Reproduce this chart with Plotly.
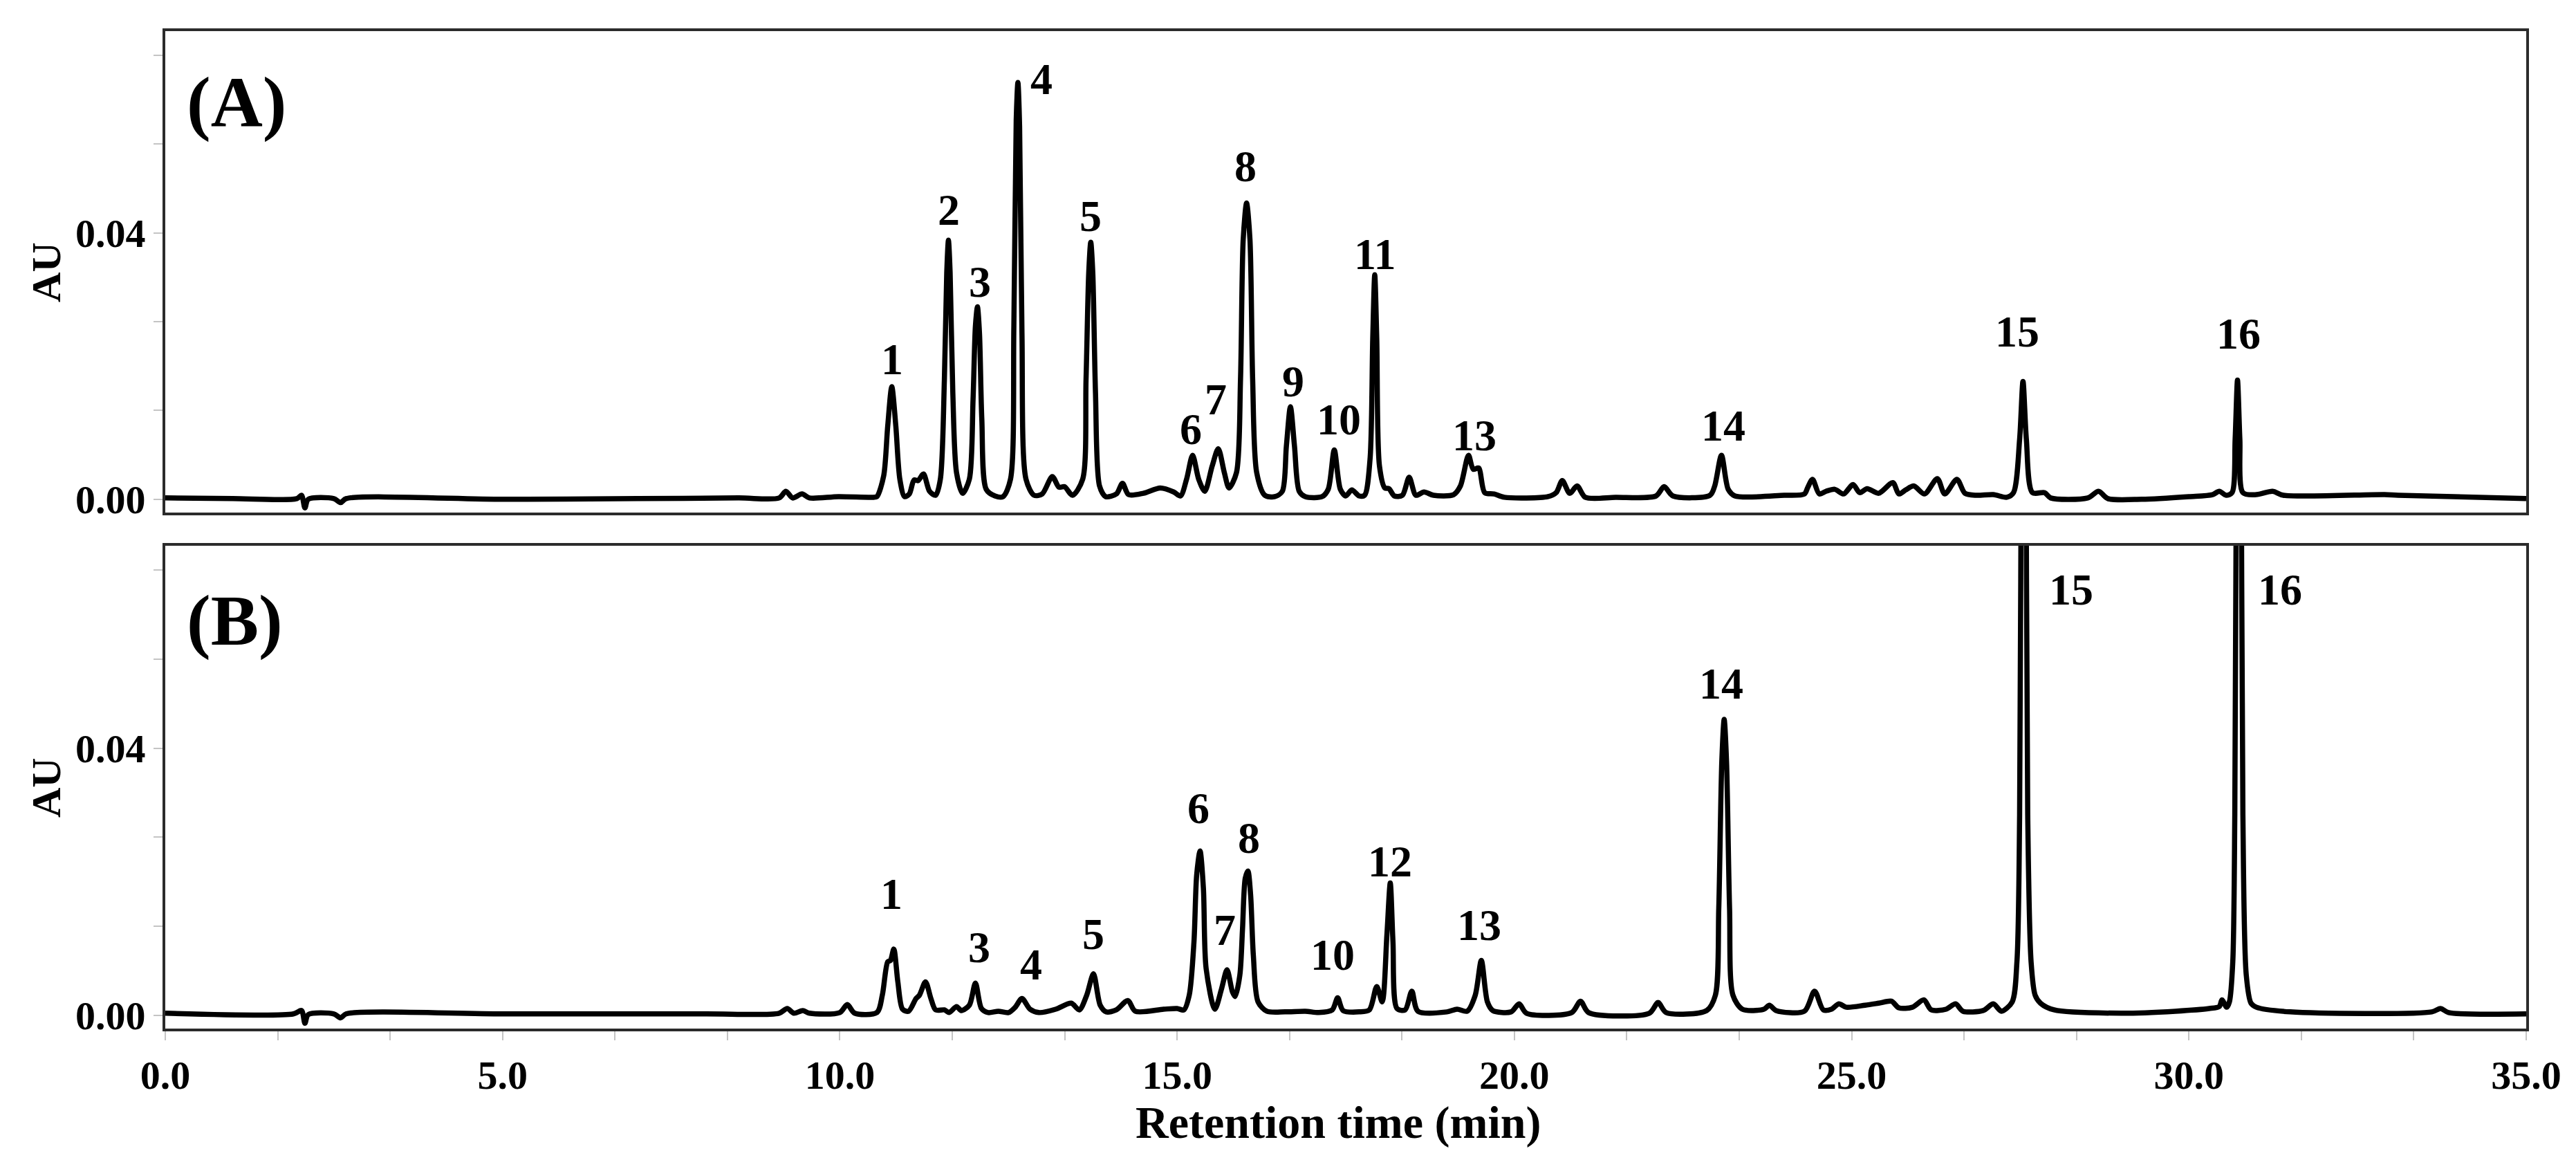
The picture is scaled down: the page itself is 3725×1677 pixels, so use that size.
import plotly.graph_objects as go
from plotly.subplots import make_subplots

# ---- chromatogram (A): retention time (min) and absorbance (AU)
time_a = [
    0.0, 1.0, 1.95, 2.02, 2.07, 2.12, 2.5, 2.6, 2.68, 5.0, 7.0, 8.5, 9.1, 9.2, 9.3, 9.44, 9.55, 9.98, 10.5,
    10.55, 10.65, 10.71, 10.77, 10.83, 10.89, 10.96,
    11.03, 11.1, 11.16, 11.24, 11.33, 11.42,
    11.49, 11.55, 11.585, 11.61, 11.635, 11.675, 11.73, 11.82,
    11.92, 11.975, 12.01, 12.04, 12.07, 12.105, 12.17, 12.3, 12.42,
    12.53, 12.58, 12.615, 12.64, 12.665, 12.70, 12.76, 12.88,
    13.0, 13.15, 13.25, 13.33, 13.45,
    13.6, 13.65, 13.69, 13.72, 13.75, 13.79, 13.85, 13.94,
    14.1, 14.19, 14.28, 14.5, 14.75, 14.95, 15.05,
    15.14, 15.23, 15.32, 15.41, 15.52, 15.61, 15.7, 15.77,
    15.88, 15.94, 15.98, 16.03, 16.08, 16.12, 16.18, 16.3, 16.45,
    16.56, 16.62, 16.68, 16.74, 16.81, 16.9, 17.15,
    17.24, 17.33, 17.42, 17.5, 17.59, 17.7, 17.78,
    17.86, 17.90, 17.93, 17.96, 18.0, 18.08, 18.14, 18.22, 18.34,
    18.44, 18.54, 18.66, 18.8, 19.1,
    19.2, 19.32, 19.39, 19.47, 19.56, 19.7, 19.85, 20.5, 20.62,
    20.71, 20.82, 20.93, 21.05, 21.5, 22.1, 22.22, 22.35, 22.9,
    22.97, 23.07, 23.17, 23.27, 24.0, 24.3, 24.35, 24.42, 24.52, 24.62, 24.75, 24.88, 25.02, 25.12,
    25.23, 25.4, 25.61, 25.7, 25.8, 25.92, 26.08, 26.27, 26.38, 26.56, 26.68, 26.85, 27.1, 27.3,
    27.4, 27.49, 27.54, 27.59, 27.68, 27.86, 27.95, 28.5, 28.66, 28.8, 29.3, 30.0, 30.35, 30.45, 30.55,
    30.64, 30.685, 30.72, 30.755, 30.8, 31.0, 31.24, 31.4, 32.9, 33.1, 35.0,
]
au_a = [
    0.0002, 0.0001, 0.0001, 0.0006, -0.0013, 0.0000, 0.0001, -0.0005, 0.0001, 0.0000, 0.0001, 0.0002, 0.0002, 0.0012, 0.0002, 0.0008, 0.0002, 0.0004, 0.0003,
    0.0004, 0.0035, 0.011, 0.0169, 0.011, 0.003, 0.0004,
    0.0008, 0.0029, 0.0028, 0.0038, 0.0012, 0.0006,
    0.003, 0.018, 0.034, 0.0389, 0.034, 0.016, 0.004, 0.0009,
    0.003, 0.015, 0.026, 0.0289, 0.025, 0.012, 0.0015, 0.0005, 0.0004,
    0.003, 0.026, 0.057, 0.0626, 0.056, 0.025, 0.003, 0.0006,
    0.0008, 0.0034, 0.0018, 0.0019, 0.0006,
    0.003, 0.018, 0.034, 0.0386, 0.034, 0.016, 0.002, 0.0004,
    0.0008, 0.0024, 0.0007, 0.0009, 0.0017, 0.0011, 0.0005,
    0.003, 0.0066, 0.003, 0.0012, 0.005, 0.0076, 0.004, 0.0017,
    0.004, 0.018, 0.039, 0.0445, 0.039, 0.018, 0.004, 0.0006, 0.0004,
    0.0012, 0.008, 0.0139, 0.008, 0.0012, 0.0004, 0.0004,
    0.0015, 0.0074, 0.0015, 0.0005, 0.0014, 0.0005, 0.0006,
    0.006, 0.024, 0.0337, 0.024, 0.005, 0.0017, 0.0016, 0.0005, 0.0006,
    0.0033, 0.0006, 0.0011, 0.0006, 0.0007,
    0.002, 0.0066, 0.0045, 0.0047, 0.001, 0.0008, 0.0003, 0.0004, 0.001,
    0.0028, 0.0009, 0.002, 0.0003, 0.0003, 0.0005, 0.0019, 0.0005, 0.0006,
    0.002, 0.0066, 0.0015, 0.0005, 0.0006, 0.0008, 0.0018, 0.003, 0.0008, 0.0012, 0.0015, 0.0008, 0.0022, 0.001,
    0.0016, 0.0009, 0.0025, 0.0008, 0.0014, 0.0020, 0.0008, 0.0031, 0.0008, 0.003, 0.0009, 0.0006, 0.0007, 0.0003,
    0.001, 0.009, 0.0177, 0.009, 0.001, 0.001, 0.0002, 0.0002, 0.0012, 0.0001, 0.0000, 0.0004, 0.0007, 0.0012, 0.0006,
    0.001, 0.009, 0.0179, 0.009, 0.001, 0.0007, 0.0012, 0.0006, 0.0007, 0.0006, 0.0001,
]

# ---- chromatogram (B)
time_b = [
    0.0, 1.9, 2.02, 2.07, 2.12, 2.5, 2.6, 2.68, 5.0, 8.0, 9.1, 9.22, 9.32, 9.45, 9.55, 10.0, 10.11, 10.22, 10.55,
    10.63, 10.71, 10.75, 10.80, 10.86, 10.93, 11.02, 11.13, 11.18, 11.27, 11.35, 11.42, 11.55, 11.62, 11.73, 11.8,
    11.92, 12.01, 12.1, 12.2, 12.35, 12.5,
    12.6, 12.7, 12.82, 12.95, 13.2, 13.43, 13.55,
    13.66, 13.76, 13.86, 13.95, 14.1, 14.27, 14.38, 14.8, 15.0, 15.1,
    15.18, 15.25, 15.29, 15.34, 15.39, 15.43, 15.56,
    15.66, 15.74, 15.82, 15.86,
    15.93, 15.97, 16.01, 16.05, 16.09, 16.13, 16.2, 16.33, 16.6, 16.9, 17.1,
    17.3, 17.38, 17.46, 17.7, 17.85, 17.96, 18.04,
    18.11, 18.16, 18.2, 18.26, 18.38, 18.48, 18.57, 19.0, 19.15, 19.3,
    19.42, 19.51, 19.6, 19.68, 19.95, 20.07, 20.18, 20.85, 20.98, 21.1, 22.0, 22.13, 22.25, 22.85,
    22.98, 23.03, 23.075, 23.11, 23.145, 23.19, 23.24, 23.38, 23.7, 23.78, 23.88, 24.3, 24.45, 24.58, 24.7,
    24.81, 24.92, 25.2, 25.4, 25.59, 25.7, 25.9, 26.07, 26.18, 26.4, 26.54, 26.65, 26.95, 27.1, 27.22,
    27.38, 27.45, 27.49, 27.52, 27.55, 27.58, 27.61, 27.66, 27.72, 27.8, 28.0, 29.0, 29.8, 30.3, 30.45, 30.49, 30.56,
    30.6, 30.65, 30.68, 30.71, 30.74, 30.77, 30.8, 30.85, 30.92, 31.0, 31.5, 33.6, 33.73, 33.85, 35.0,
]
au_b = [
    0.0003, 0.0002, 0.0007, -0.0012, 0.0001, 0.0002, -0.0004, 0.0002, 0.0002, 0.0002, 0.0003, 0.001, 0.0003, 0.0007, 0.0003, 0.0004, 0.0016, 0.0003, 0.0004,
    0.003, 0.008, 0.0082, 0.0099, 0.005, 0.0009, 0.0006, 0.0025, 0.003, 0.005, 0.0025, 0.0008, 0.0008, 0.0004, 0.0013, 0.0007,
    0.0015, 0.0048, 0.001, 0.0004, 0.0006, 0.0004,
    0.0012, 0.0025, 0.0009, 0.0004, 0.0009, 0.0018, 0.0008,
    0.003, 0.0062, 0.0015, 0.0005, 0.0008, 0.0022, 0.0006, 0.0009, 0.0010, 0.0008,
    0.003, 0.011, 0.021, 0.0246, 0.019, 0.007, 0.0009,
    0.004, 0.0068, 0.0035, 0.0028,
    0.006, 0.013, 0.0205, 0.0216, 0.018, 0.009, 0.002, 0.0006, 0.0005, 0.0006, 0.0004,
    0.0008, 0.0026, 0.0007, 0.0005, 0.0008, 0.0043, 0.002,
    0.012, 0.0198, 0.011, 0.001, 0.0008, 0.0036, 0.0006, 0.0005, 0.0009, 0.0006,
    0.003, 0.0082, 0.002, 0.0007, 0.0005, 0.0017, 0.0003, 0.0004, 0.0021, 0.0004, 0.0003, 0.0019, 0.0004, 0.0007,
    0.003, 0.016, 0.038, 0.0443, 0.038, 0.016, 0.003, 0.0009, 0.0009, 0.0015, 0.0007, 0.0006, 0.0036, 0.0008, 0.0009,
    0.0017, 0.0012, 0.0015, 0.0018, 0.0021, 0.0011, 0.0012, 0.0023, 0.0008, 0.0009, 0.0017, 0.0006, 0.0007, 0.0017, 0.0006,
    0.002, 0.008, 0.03, 0.10, 0.13, 0.10, 0.03, 0.008, 0.003, 0.0018, 0.0008, 0.0003, 0.0006, 0.0010, 0.0013, 0.0023, 0.0012,
    0.002, 0.008, 0.03, 0.10, 0.13, 0.10, 0.03, 0.006, 0.0018, 0.0012, 0.0005, 0.0005, 0.001, 0.0004, 0.0002,
]

# ---- peak numbers and where they sit (time, AU)
peaks_a = ["1", "2", "3", "4", "5", "6", "7", "8", "9", "10", "11", "13", "14", "15", "16"]
peaks_a_t = [10.77, 11.62, 12.08, 12.99, 13.72, 15.20, 15.57, 16.01, 16.72, 17.40, 17.93, 19.41, 23.10, 27.45, 30.74]
peaks_a_au = [0.021, 0.0434, 0.0326, 0.0631, 0.0425, 0.0105, 0.015, 0.050, 0.0177, 0.012, 0.0368, 0.0096, 0.011, 0.0252, 0.0249]

peaks_b = ["1", "3", "4", "5", "6", "7", "8", "10", "12", "13", "14", "15", "16"]
peaks_b_t = [10.76, 12.07, 12.84, 13.76, 15.32, 15.71, 16.06, 17.31, 18.16, 19.48, 23.07, 28.25, 31.35]
peaks_b_au = [0.0182, 0.0102, 0.0076, 0.0121, 0.031, 0.0128, 0.0265, 0.009, 0.023, 0.0135, 0.0496, 0.0637, 0.0637]

assert len(time_a) == len(au_a) and len(time_b) == len(au_b)

FONT = "Liberation Serif"
TICKGREY = "#c4c4c4"
FRAME = "#2b2b2b"
bold = lambda size: dict(family=FONT, size=size, color="black", weight="bold")

fig = make_subplots(rows=2, cols=1, shared_xaxes=True)

fig.add_trace(go.Scatter(x=time_a, y=au_a, mode="lines",
                         line=dict(color="black", width=7.5, shape="spline", smoothing=0.8)), 1, 1)
fig.add_trace(go.Scatter(x=time_b, y=au_b, mode="lines",
                         line=dict(color="black", width=7.5, shape="spline", smoothing=0.8)), 2, 1)

annos = []
for name, t, v in zip(peaks_a, peaks_a_t, peaks_a_au):
    annos.append(dict(x=t, y=v, xref="x", yref="y", text="<b>%s</b>" % name, showarrow=False,
                      xanchor="center", yanchor="middle", font=bold(64)))
for name, t, v in zip(peaks_b, peaks_b_t, peaks_b_au):
    annos.append(dict(x=t, y=v, xref="x2", yref="y2", text="<b>%s</b>" % name, showarrow=False,
                      xanchor="center", yanchor="middle", font=bold(64)))

# panel letters
annos.append(dict(x=0.3, y=0.0596, xref="x", yref="y", xanchor="left", yanchor="middle",
                  text="<b>(A)</b>", showarrow=False, font=bold(104)))
annos.append(dict(x=0.3, y=0.0591, xref="x2", yref="y2", xanchor="left", yanchor="middle",
                  text="<b>(B)</b>", showarrow=False, font=bold(104)))

# axis titles
for yc in [0.7587, 0.242]:
    annos.append(dict(x=-0.0504, y=yc, xref="paper", yref="paper", text="<b>AU</b>", textangle=-90,
                      xanchor="center", yanchor="middle", showarrow=False, font=bold(60)))
annos.append(dict(x=0.497, y=-0.0943, xref="paper", yref="paper", text="<b>Retention time (min)</b>",
                  xanchor="center", yanchor="middle", showarrow=False, font=bold(66)))

yax = dict(range=[-0.002, 0.0703], tickmode="linear", tick0=0, dtick=0.04, tickformat=".2f",
           ticks="outside", ticklen=13, tickwidth=2, tickcolor=TICKGREY,
           minor=dict(tickmode="linear", tick0=0, dtick=0.04 / 3, ticks="outside", ticklen=13,
                      tickwidth=2, tickcolor=TICKGREY),
           showgrid=False, zeroline=False, showline=True, mirror=True, linecolor=FRAME, linewidth=4,
           tickfont=bold(58))

fig.update_layout(
    width=3725, height=1677,
    margin=dict(l=231, r=80, t=37, b=198),
    paper_bgcolor="white", plot_bgcolor="white",
    showlegend=False,
    annotations=annos,
    xaxis=dict(range=[0, 35], showticklabels=False, ticks="", showgrid=False, zeroline=False,
               showline=True, mirror=True, linecolor=FRAME, linewidth=4),
    xaxis2=dict(range=[0, 35], tickmode="linear", tick0=0, dtick=5, tickformat=".1f",
                ticks="outside", ticklen=13, tickwidth=2, tickcolor=TICKGREY,
                minor=dict(tickmode="linear", tick0=0, dtick=5 / 3, ticks="outside", ticklen=13,
                           tickwidth=2, tickcolor=TICKGREY),
                showgrid=False, zeroline=False, showline=True, mirror=True, linecolor=FRAME, linewidth=4,
                tickfont=bold(58)),
    yaxis=dict(yax, domain=[0.5173, 1.0]),
    yaxis2=dict(yax, domain=[0.0, 0.484]),
)

fig.write_html("out.html")
